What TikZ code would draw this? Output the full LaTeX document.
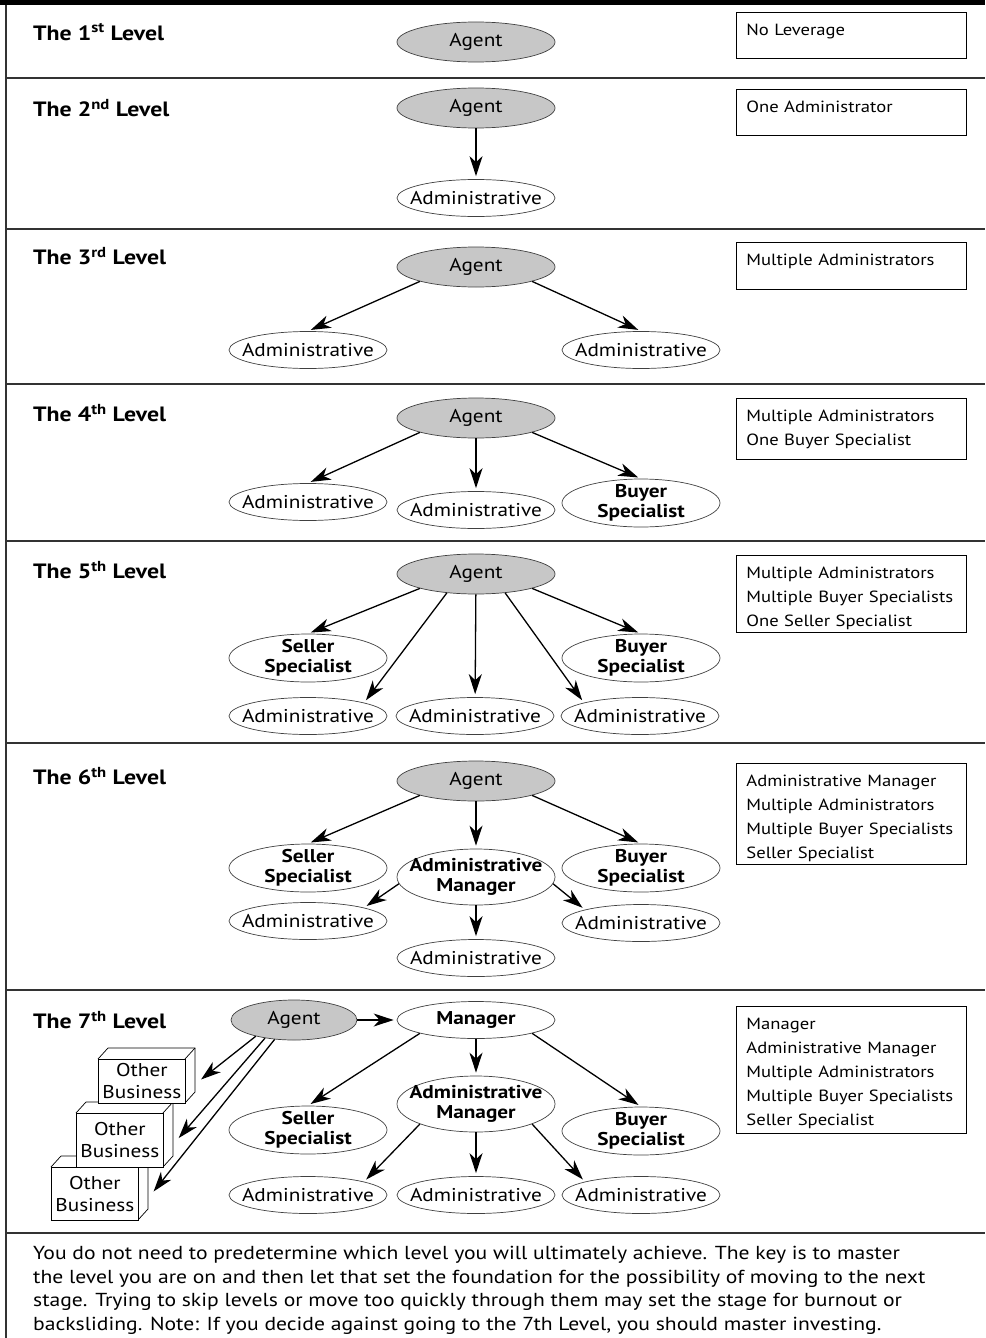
\documentclass[tikz,border=0pt]{standalone}
\usepackage{fontspec}
\setmainfont[FakeStretch=1.15]{PT Sans}
\usetikzlibrary{arrows.meta, shapes.geometric, positioning}

\tikzset{
  agent/.style={ellipse, draw=black!75, fill=black!22, line width=0.7pt, minimum width=158pt, minimum height=40pt, inner xsep=-14pt, inner ysep=-10pt, font=\fontsize{18.5}{21}\selectfont},
  staff/.style={ellipse, draw=black!75, fill=white, line width=0.7pt, minimum width=158pt, minimum height=37pt, inner xsep=-14pt, inner ysep=-10pt, font=\fontsize{18.5}{21}\selectfont},
  spec/.style={staff, minimum height=48pt, align=center, font=\bfseries\fontsize{18.5}{20}\selectfont},
  mgr/.style={spec, minimum height=56pt},
  lvl/.style={anchor=west, inner sep=0pt, font=\bfseries\fontsize{20.7}{24}\selectfont},
  note/.style={draw, line width=0.8pt, anchor=north west, text width=210pt, align=left, inner xsep=10pt, inner ysep=5pt, text height=18pt, text depth=#1, font=\fontsize{16.2}{24}\selectfont},
  firm/.style={draw, fill=white, line width=0.7pt, anchor=north west, minimum width=87pt, inner sep=0pt, align=center, font=\fontsize{18.5}{22}\selectfont},
  link/.style={-{Stealth[length=20pt,width=13pt,inset=6pt]}, line width=1.3pt, shorten >=3pt},
  sep/.style={line width=2pt, black!80},
  para/.style={anchor=north west, inner sep=0pt, align=left, font=\fontsize{18.8}{23.5}\selectfont}
}

\begin{document}
\begin{tikzpicture}[x=1pt, y=-1pt, node distance=167pt]
\useasboundingbox (0,0) rectangle (985,1338);

% frame and level rules
\fill (0,0) rectangle (985,5);
\draw[line width=1.5pt, black!80] (6,5) -- (6,1338);
\foreach \ypos in {78,229,384,541,743,990,1233}
  \draw[sep] (6,\ypos) -- (985,\ypos);

% level 1
\node[lvl] (title1) at (33,32) {The 1\textsuperscript{st} Level};
\node[agent] (agent1) at (476,42) {Agent};
\node[note=18pt] (note1) at (736,12) {No Leverage};

% level 2
\node[lvl] (title2) at (33,108) {The 2\textsuperscript{nd} Level};
\node[agent] (agent2) at (476,108) {Agent};
\node[staff, below of=agent2, node distance=90pt] (adm2) {Administrative};
\node[note=18pt] (note2) at (736,89) {One Administrator};
\draw[link] (agent2) -- (adm2);

% level 3
\node[lvl] (title3) at (33,256) {The 3\textsuperscript{rd} Level};
\node[agent] (agent3) at (476,267) {Agent};
\node[staff] (admL3) at (308,350) {Administrative};
\node[staff, right of=admL3, node distance=333pt] (admR3) {Administrative};
\node[note=19pt] (note3) at (736,242) {Multiple Administrators};
\draw[link] (agent3.south west) -- (admL3.north);
\draw[link] (agent3.south east) -- (admR3.north);

% level 4
\node[lvl] (title4) at (33,413) {The 4\textsuperscript{th} Level};
\node[agent] (agent4) at (476,418) {Agent};
\node[staff] (admL4) at (308,502) {Administrative};
\node[staff] (admM4) at (476,510) {Administrative};
\node[spec] (buyer4) at (641,503) {Buyer\\Specialist};
\node[note=33pt] (note4) at (736,398) {Multiple Administrators\\One Buyer Specialist};
\draw[link] (agent4.south west) -- (admL4.north);
\draw[link] (agent4) -- (admM4);
\draw[link] (agent4.south east) -- (buyer4.north);

% level 5
\node[lvl] (title5) at (33,570) {The 5\textsuperscript{th} Level};
\node[agent] (agent5) at (476,574) {Agent};
\node[spec] (seller5) at (308,658) {Seller\\Specialist};
\node[spec, right of=seller5, node distance=333pt] (buyer5) {Buyer\\Specialist};
\node[staff] (admL5) at (308,716) {Administrative};
\node[staff, right of=admL5] (admM5) {Administrative};
\node[staff, right of=admM5, node distance=165pt] (admR5) {Administrative};
\node[note=49pt] (note5) at (736,555) {Multiple Administrators\\Multiple Buyer Specialists\\One Seller Specialist};
\draw[link] (agent5.south west) -- (seller5.north);
\draw[link] (agent5.south east) -- (buyer5.north);
\draw[link] (agent5.213) -- (admL5.north east);
\draw[link] (agent5) -- (admM5);
\draw[link] (agent5.327) -- (admR5.north west);

% level 6
\node[lvl] (title6) at (33,776) {The 6\textsuperscript{th} Level};
\node[agent] (agent6) at (476,781) {Agent};
\node[spec] (seller6) at (308,868) {Seller\\Specialist};
\node[mgr] (amgr6) at (476,877) {Administrative\\Manager};
\node[spec] (buyer6) at (641,868) {Buyer\\Specialist};
\node[staff] (admL6) at (308,921) {Administrative};
\node[staff] (admR6) at (641,923) {Administrative};
\node[staff] (admB6) at (476,958) {Administrative};
\node[note=73pt] (note6) at (736,763) {Administrative Manager\\Multiple Administrators\\Multiple Buyer Specialists\\Seller Specialist};
\draw[link] (agent6.south west) -- (seller6.north);
\draw[link] (agent6) -- (amgr6);
\draw[link] (agent6.south east) -- (buyer6.north);
\draw[link] (amgr6.185) -- (admL6.north east);
\draw[link] (amgr6.355) -- (admR6.north west);
\draw[link] (amgr6) -- (admB6);

% level 7
\node[lvl] (title7) at (33,1020) {The 7\textsuperscript{th} Level};
\node[agent, minimum width=126pt] (agent7) at (294,1020) {Agent};
\node[staff, font=\bfseries\fontsize{18.5}{21}\selectfont] (boss7) at (476,1020) {Manager};
\node[spec] (seller7) at (308,1130) {Seller\\Specialist};
\node[mgr] (amgr7) at (476,1104) {Administrative\\Manager};
\node[spec] (buyer7) at (641,1131) {Buyer\\Specialist};
\node[staff] (admL7) at (308,1195) {Administrative};
\node[staff] (admM7) at (476,1195) {Administrative};
\node[staff] (admR7) at (641,1195) {Administrative};
\node[note=99pt] (note7) at (736,1006) {Manager\\Administrative Manager\\Multiple Administrators\\Multiple Buyer Specialists\\Seller Specialist};
\foreach \nm/\bx/\by/\bh in {ob3/51/1167/53, ob2/76/1113/54, ob1/98/1059/44} {
  \draw[fill=white, line width=0.7pt] (\bx,\by) -- ++(10,-11) -- ++(87,0) -- ++(0,\bh) -- ++(-10,11);
  \draw[line width=0.7pt] (\bx+87,\by) -- ++(10,-11);
  \node[firm, minimum height=\bh pt] (\nm) at (\bx,\by) {Other\\Business};
}
\draw[link] (agent7) -- (boss7);
\draw[link] (boss7.south west) -- (seller7.north);
\draw[link] (boss7) -- (amgr7);
\draw[link] (boss7.south east) -- (buyer7.north);
\draw[link] (amgr7.south west) -- (admL7.north east);
\draw[link] (amgr7) -- (admM7);
\draw[link] (amgr7.south east) -- (admR7.north west);
\draw[link] (agent7.203) -- ([xshift=13pt]ob1.east);
\draw[link] (agent7.212) -- ([xshift=13pt]ob2.east);
\draw[link] (agent7.225) -- ([xshift=13pt]ob3.east);

% closing remark
\node[para] (remark) at (33,1246) {You do not need to predetermine which level you will ultimately achieve. The key is to master\\
the level you are on and then let that set the foundation for the possibility of moving to the next\\
stage. Trying to skip levels or move too quickly through them may set the stage for burnout or\\
backsliding. Note: If you decide against going to the 7th Level, you should master investing.};
\end{tikzpicture}
\end{document}
